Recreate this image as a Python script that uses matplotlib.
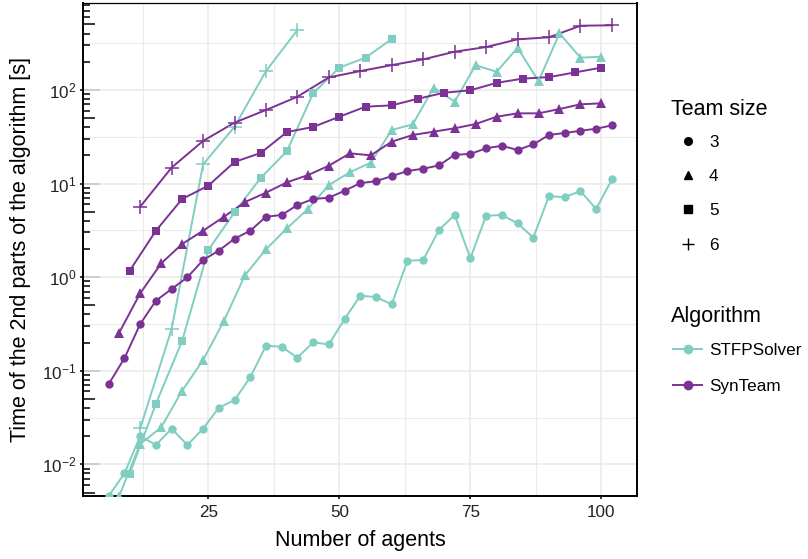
import matplotlib
matplotlib.use('Agg')
import matplotlib.pyplot as plt
from matplotlib.lines import Line2D
from matplotlib.ticker import FixedLocator, FixedFormatter, NullLocator

plt.rcParams['font.family'] = ['Liberation Sans', 'DejaVu Sans']
plt.rcParams['mathtext.fontset'] = 'custom'
plt.rcParams['mathtext.rm'] = 'Liberation Sans'
plt.rcParams['mathtext.it'] = 'Liberation Sans:italic'
plt.rcParams['mathtext.bf'] = 'Liberation Sans:bold'

# ---- data ----
agents_3 = [6, 9, 12, 15, 18, 21, 24, 27, 30, 33, 36, 39, 42, 45, 48, 51, 54,
            57, 60, 63, 66, 69, 72, 75, 78, 81, 84, 87, 90, 93, 96, 99, 102]
agents_4 = [8, 12, 16, 20, 24, 28, 32, 36, 40, 44, 48, 52, 56, 60, 64, 68,
            72, 76, 80, 84, 88, 92, 96, 100]
agents_5 = [10, 15, 20, 25, 30, 35, 40, 45, 50, 55, 60, 65, 70, 75, 80, 85,
            90, 95, 100]
agents_6 = [12, 18, 24, 30, 36, 42, 48, 54, 60, 66, 72, 78, 84, 90, 96, 102]

synteam_3 = [0.072, 0.136, 0.315, 0.56, 0.746, 0.995, 1.52, 1.92, 2.57, 3.13,
             4.42, 4.61, 5.89, 6.83, 7.05, 8.38, 10.1, 10.6, 12.0, 13.6, 14.4,
             15.6, 20.3, 20.7, 23.8, 25.3, 22.8, 26.2, 33.0, 34.7, 36.6, 38.5,
             41.8]
synteam_4 = [0.255, 0.671, 1.40, 2.26, 3.13, 4.42, 6.34, 7.98, 10.3, 12.3,
             15.5, 21.0, 20.0, 28.0, 33.0, 35.8, 38.9, 43.2, 51.7, 56.2, 56.2,
             62.5, 70.2, 71.9]
synteam_5 = [1.17, 3.13, 6.83, 9.48, 17.0, 21.2, 35.5, 40.2, 51.7, 66.2, 68.4,
             80.5, 93.3, 99, 119, 132, 137, 154, 173]
synteam_6 = [5.65, 14.8, 28.5, 44.7, 61, 84.6, 136, 159, 184, 212, 256, 287,
             347, 365, 485, 490]

stfp_3 = [0.0046, 0.0080, 0.020, 0.0161, 0.024, 0.0161, 0.024, 0.0403, 0.0486,
          0.0849, 0.185, 0.180, 0.138, 0.201, 0.191, 0.357, 0.633, 0.612,
          0.512, 1.50, 1.52, 3.19, 4.61, 1.59, 4.53, 4.61, 3.76, 2.64, 7.35,
          7.13, 8.32, 5.34, 11.1]
stfp_4 = [0.0046, 0.0165, 0.0248, 0.0611, 0.130, 0.342, 1.05, 1.98, 3.32, 5.34,
          9.64, 13.2, 16.7, 37.3, 42.9, 106, 74.8, 184, 156, 282, 124, 402,
          221, 226]
stfp_5 = [0.0079, 0.0444, 0.208, 1.95, 4.92, 11.5, 22.2, 92, 173, 221, 350]
stfp_6 = [0.0242, 0.279, 16.0, 40.4, 159, 436]

team_sizes = ['3', '4', '5', '6']
algorithms = ['STFPSolver', 'SynTeam']
x_ticks = [25, 50, 75, 100]
y_ticks = [0.01, 0.1, 1, 10, 100]
y_ticklabels = ['$10^{-2}$', '$10^{-1}$', '$10^{0}$', '$10^{1}$', '$10^{2}$']

colors = {'STFPSolver': '#80CDC1', 'SynTeam': '#7B3294'}
markers = {'3': 'o', '4': '^', '5': 's', '6': '+'}
msizes = {'3': 6, '4': 6.5, '5': 5.8, '6': 9.5}

series = {
    'STFPSolver': {'3': (agents_3, stfp_3), '4': (agents_4, stfp_4),
                   '5': (agents_5[:len(stfp_5)], stfp_5),
                   '6': (agents_6[:len(stfp_6)], stfp_6)},
    'SynTeam': {'3': (agents_3, synteam_3), '4': (agents_4, synteam_4),
                '5': (agents_5, synteam_5), '6': (agents_6, synteam_6)},
}

TITLE_FS = 15.5
TEXT_FS = 12.3

fig = plt.figure(figsize=(8.08, 5.59), dpi=100)
ax = fig.add_axes([0.1031, 0.1132, 0.6847, 0.8809])
ax.set_yscale('log')
ax.set_xlim(1.15, 106.7)
ax.set_ylim(0.00462, 842)

# lines first, then points
for algo in algorithms:
    for ts in team_sizes:
        xs, ys = series[algo][ts]
        ax.plot(xs, ys, color=colors[algo], lw=1.4, zorder=2)
for algo in algorithms:
    for ts in team_sizes:
        xs, ys = series[algo][ts]
        ax.plot(xs, ys, ls='none', marker=markers[ts], ms=msizes[ts],
                mew=1.1 if ts == '6' else 0, color=colors[algo], zorder=3)

# grid
ax.set_axisbelow(True)
ax.set_xticks(x_ticks)
ax.xaxis.set_minor_locator(FixedLocator([12.5, 37.5, 62.5, 87.5]))
ax.grid(which='major', color='#EBEBEB', lw=1.2)
ax.grid(which='minor', axis='x', color='#EBEBEB', lw=0.8)
for e in [-1.5, -0.5, 0.5, 1.5, 2.5]:
    ax.axhline(10 ** e, color='#EBEBEB', lw=0.8, zorder=0)

# axis ticks: short outward ones + log ticks inside the left axis
ax.yaxis.set_major_locator(FixedLocator(y_ticks))
ax.yaxis.set_major_formatter(FixedFormatter(y_ticklabels))
minor = [k * 10.0 ** e for e in range(-3, 3) for k in [2, 3, 4, 6, 7, 8, 9]]
ax.yaxis.set_minor_locator(FixedLocator(minor))
ax.tick_params(axis='y', which='major', direction='out', length=2.2, width=1.1,
               pad=3, labelsize=TEXT_FS, labelcolor='#222222')
ax.tick_params(axis='y', which='minor', direction='in', length=5, width=1.1)
ax.tick_params(axis='x', which='major', direction='out', length=2.2, width=1.1,
               pad=4.5, labelsize=TEXT_FS, labelcolor='#222222')
ax.tick_params(axis='x', which='minor', length=0)

sec_long = ax.secondary_yaxis('left')
sec_long.set_yticks([10.0 ** e for e in range(-3, 3)])
sec_long.yaxis.set_minor_locator(NullLocator())
sec_long.tick_params(direction='in', length=12, width=1.1, labelleft=False)
sec_long.spines['left'].set_visible(False)

sec_mid = ax.secondary_yaxis('left')
sec_mid.set_yticks([5 * 10.0 ** e for e in range(-3, 3)])
sec_mid.yaxis.set_minor_locator(NullLocator())
sec_mid.tick_params(direction='in', length=8.4, width=1.1, labelleft=False)
sec_mid.spines['left'].set_visible(False)

for s in ['left', 'bottom', 'right']:
    ax.spines[s].set_linewidth(1.4)
ax.spines['top'].set_linewidth(0.9)

ax.set_xlabel('Number of agents', fontsize=TITLE_FS, labelpad=7)
ax.set_ylabel('Time of the 2nd parts of the algorithm [s]', fontsize=TITLE_FS,
              labelpad=8)

# legends (titles as separate text so the gap can be matched)
h1 = [Line2D([], [], ls='none', marker=markers[t], ms=msizes[t] - 0.5,
             mew=1.0, color='black') for t in team_sizes]
fig.text(670.7 / 808, 1 - 115 / 559, 'Team size', fontsize=TITLE_FS,
         ha='left', va='baseline')
fig.legend(h1, team_sizes, loc='upper left', bbox_to_anchor=(0.8333, 0.7582),
           frameon=False, fontsize=TEXT_FS, handlelength=1.68,
           handletextpad=0.41, labelspacing=1.12, borderpad=0,
           borderaxespad=0)

h2 = [Line2D([], [], color=colors[a], lw=1.4, marker='o', ms=6) for a in algorithms]
fig.text(670.7 / 808, 1 - 322 / 559, 'Algorithm', fontsize=TITLE_FS,
         ha='left', va='baseline')
fig.legend(h2, algorithms, loc='upper left', bbox_to_anchor=(0.8333, 0.3858),
           frameon=False, fontsize=TEXT_FS, handlelength=1.68,
           handletextpad=0.41, labelspacing=1.20, borderpad=0,
           borderaxespad=0)

fig.savefig('out.png', dpi=100)
